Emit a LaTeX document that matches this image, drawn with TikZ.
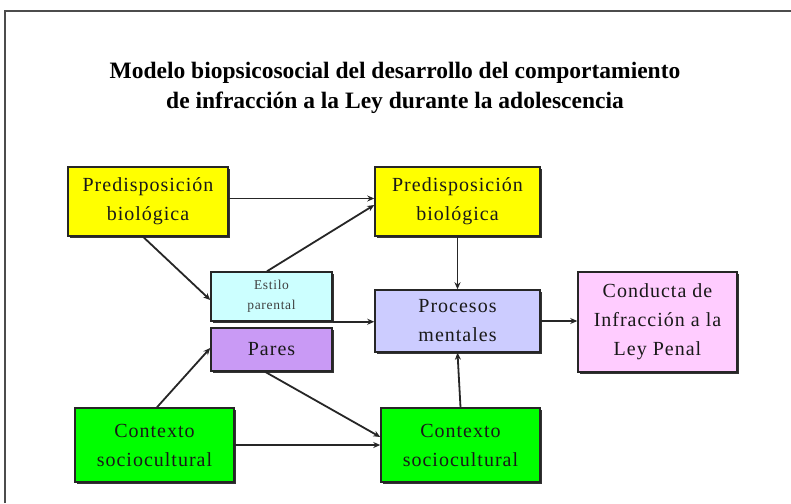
\documentclass[tikz,border=0pt]{standalone}
\usepackage{fontspec}
\setmainfont{Liberation Serif}
\newfontfamily\boxfont[LetterSpace=5]{Liberation Serif}
\usetikzlibrary{arrows.meta,shadows}
\definecolor{cyellow}{HTML}{FFFF00}
\definecolor{ccyan}{HTML}{CCFFFF}
\definecolor{cpurple}{HTML}{C99AF5}
\definecolor{clav}{HTML}{CCCCFF}
\definecolor{cpink}{HTML}{FFCCFF}
\definecolor{cgreen}{HTML}{00FF00}
\tikzset{
  box/.style={draw=black!85, line width=1.5pt, rectangle, align=center, inner sep=0pt,
    general shadow={shadow xshift=2pt, shadow yshift=-2pt, fill=black!80},
    font=\boxfont\fontsize{20}{29}\selectfont, text=black!90},
  smallbox/.style={box, font=\boxfont\fontsize{13.5}{20}\selectfont, text=black!75},
  conn/.style={draw=black!85, line width=1.8pt, -{Stealth[length=7pt,width=6pt]}},
  framel/.style={draw=black!70, line width=1.5pt},
  titlef/.style={font=\bfseries\fontsize{23.5}{30}\selectfont, align=center}
}
\begin{document}
\begin{tikzpicture}[x=1pt,y=-1pt]
\useasboundingbox (0,0) rectangle (791,503);
\fill[white] (0,0) rectangle (791,503);
\draw[framel] (5,503) -- (5,11) -- (791,11);
\node[titlef] (title) at (395,88) {Modelo biopsicosocial del desarrollo del comportamiento\\de infracción a la Ley durante la adolescencia};

\node[box, fill=cyellow, minimum width=160pt, minimum height=69pt] (pred1) at (148,201.5) {Predisposición\\biológica};
\node[box, fill=cyellow, minimum width=165pt, minimum height=69pt] (pred2) at (457.5,201.5) {Predisposición\\biológica};
\node[smallbox, fill=ccyan, minimum width=121pt, minimum height=49pt] (estilo) at (271.5,296.5) {Estilo\\parental};
\node[box, fill=cpurple, minimum width=121pt, minimum height=43pt] (pares) at (271.5,349.5) {Pares};
\node[box, fill=clav, minimum width=165pt, minimum height=62pt] (proc) at (457.5,321) {Procesos\\mentales};
\node[box, fill=cpink, minimum width=159pt, minimum height=100pt] (cond) at (657.5,322) {Conducta de\\Infracción a la\\Ley Penal};
\node[box, fill=cgreen, minimum width=159pt, minimum height=74pt] (ctx1) at (154.5,445) {Contexto\\sociocultural};
\node[box, fill=cgreen, minimum width=159pt, minimum height=74pt] (ctx2) at (460.5,445) {Contexto\\sociocultural};

\draw[conn] ([yshift=3pt]pred1.east) -- ([yshift=3pt]pred2.west);
\draw[conn] ([xshift=-5pt]pred1.south) -- ([yshift=-3.5pt]estilo.west);
\draw[conn] ([xshift=-4.5pt]estilo.north) -- ([yshift=-3.5pt]pred2.west);
\draw[conn] (estilo.south east) -- (estilo.south east -| proc.west);
\draw[conn] (pred2.south) -- (proc.north);
\draw[conn] (proc.east) -- (proc.east -| cond.west);
\draw[conn] (ctx2.north) -- (proc.south);
\draw[conn] ([xshift=2.5pt]ctx1.north) -- ([yshift=1.5pt]pares.west);
\draw[conn] ([xshift=-6.5pt]pares.south) -- ([yshift=8pt]ctx2.west);
\draw[conn] (ctx1.east) -- (ctx1.east -| ctx2.west);
\end{tikzpicture}
\end{document}
